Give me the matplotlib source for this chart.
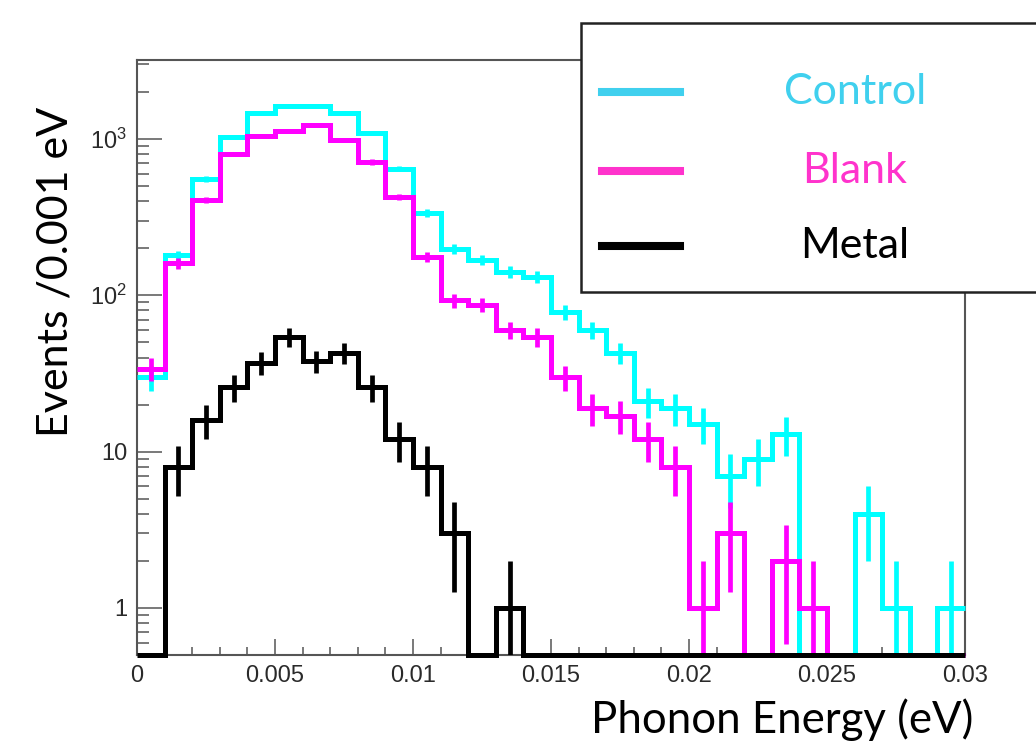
import numpy as np
import matplotlib
matplotlib.use("Agg")
import matplotlib.pyplot as plt
from matplotlib.patches import Rectangle
from matplotlib.ticker import MultipleLocator, LogLocator, FuncFormatter, NullFormatter

# histogram contents, 30 bins of 0.001 eV from 0 to 0.03 eV
bin_edges = np.linspace(0.0, 0.03, 31)
control = [30, 180, 555, 1030, 1470, 1620, 1620, 1470, 1090, 645,
           337, 198, 169, 141, 131, 78, 60, 43, 21, 19,
           15, 7, 9, 13, 0, 0, 4, 1, 0, 1]
blank = [34, 161, 408, 803, 1047, 1125, 1230, 986, 713, 426,
         176, 93, 87, 60, 54, 30, 19, 17, 12, 8,
         1, 3, 0, 2, 1, 0, 0, 0, 0, 0]
metal = [0, 8, 16, 26, 37, 54, 38, 43, 26, 12,
         8, 3, 0, 1, 0, 0, 0, 0, 0, 0,
         0, 0, 0, 0, 0, 0, 0, 0, 0, 0]

series_names = ["Control", "Blank", "Metal"]
hist_colors = ["#00ffff", "#ff00ff", "#000000"]
legend_colors = ["#40d0ee", "#ff33cc", "#000000"]
y_labels = {1: "1", 10: "10", 100: r"$10^2$", 1000: r"$10^3$"}

YMIN, YMAX = 0.5, 3200

plt.rcParams["mathtext.fontset"] = "custom"
plt.rcParams["mathtext.rm"] = "Liberation Sans"
plt.rcParams["mathtext.it"] = "Liberation Sans"

fig = plt.figure(figsize=(10.36, 7.46), dpi=100)
ax = fig.add_axes([137 / 1036, 1 - 655 / 746, 828 / 1036, 595 / 746])

centers = 0.5 * (bin_edges[:-1] + bin_edges[1:])
for counts, color in zip([control, blank, metal], hist_colors):
    counts = np.asarray(counts, dtype=float)
    shown = np.where(counts > 0, counts, YMIN)
    ax.stairs(shown, bin_edges, baseline=None, color=color, lw=3.6, clip_on=False, zorder=3)
    nz = counts > 0
    err = np.sqrt(counts[nz])
    lo = np.maximum(counts[nz] - err, YMIN)
    hi = counts[nz] + err
    ax.vlines(centers[nz], lo, hi, color=color, lw=3.4, zorder=3)

ax.set_yscale("log")
ax.set_xlim(0, 0.03)
ax.set_ylim(YMIN, YMAX)

ax.xaxis.set_major_locator(MultipleLocator(0.005))
ax.xaxis.set_minor_locator(MultipleLocator(0.001))
ax.xaxis.set_major_formatter(FuncFormatter(lambda v, p: "0" if abs(v) < 1e-12 else f"{v:g}"))
ax.yaxis.set_major_locator(LogLocator(base=10, numticks=10))
ax.yaxis.set_minor_locator(LogLocator(base=10, subs=np.arange(2, 10), numticks=20))
ax.yaxis.set_major_formatter(FuncFormatter(lambda v, p: y_labels.get(int(round(v)), "")))
ax.yaxis.set_minor_formatter(NullFormatter())

ax.tick_params(axis="both", which="both", direction="in", colors="#555555",
               labelcolor="#2a2a2a", width=1.1, top=False, right=False)
ax.tick_params(axis="x", which="major", length=11.5, pad=7, labelsize=17)
ax.tick_params(axis="x", which="minor", length=5.8)
ax.tick_params(axis="y", which="major", length=18, pad=7, labelsize=17)
ax.tick_params(axis="y", which="minor", length=8.6)
for lab in ax.get_xticklabels() + ax.get_yticklabels():
    lab.set_fontfamily("Liberation Sans")
for side in ax.spines.values():
    side.set_color("#555555")
    side.set_linewidth(1.5)

fig.text(973 / 1036, 1 - 733 / 746, "Phonon Energy (eV)", ha="right", va="baseline",
         fontsize=31.5, family="Lato")
fig.text(56 / 1036, 1 - 272 / 746, "Events /0.001 eV", rotation=90, ha="center",
         va="center", fontsize=31, family="Lato")

# legend box sticking out of the frame at the top right
box = Rectangle((581 / 1036, 1 - 292 / 746), 0.5, 269 / 746, transform=fig.transFigure,
                facecolor="white", edgecolor="#222222", lw=1.8, zorder=10)
fig.add_artist(box)
for name, color, ypix in zip(series_names, legend_colors, [92, 171, 246]):
    yf = 1 - ypix / 746
    fig.add_artist(plt.Line2D([602 / 1036, 680 / 1036], [yf, yf], color=color, lw=5.8,
                              transform=fig.transFigure, zorder=11))
    fig.text(855 / 1036, yf, name, color=color, ha="center", va="center",
             fontsize=31, family="Lato", zorder=12)

fig.savefig("out.png", dpi=100, facecolor="white")
